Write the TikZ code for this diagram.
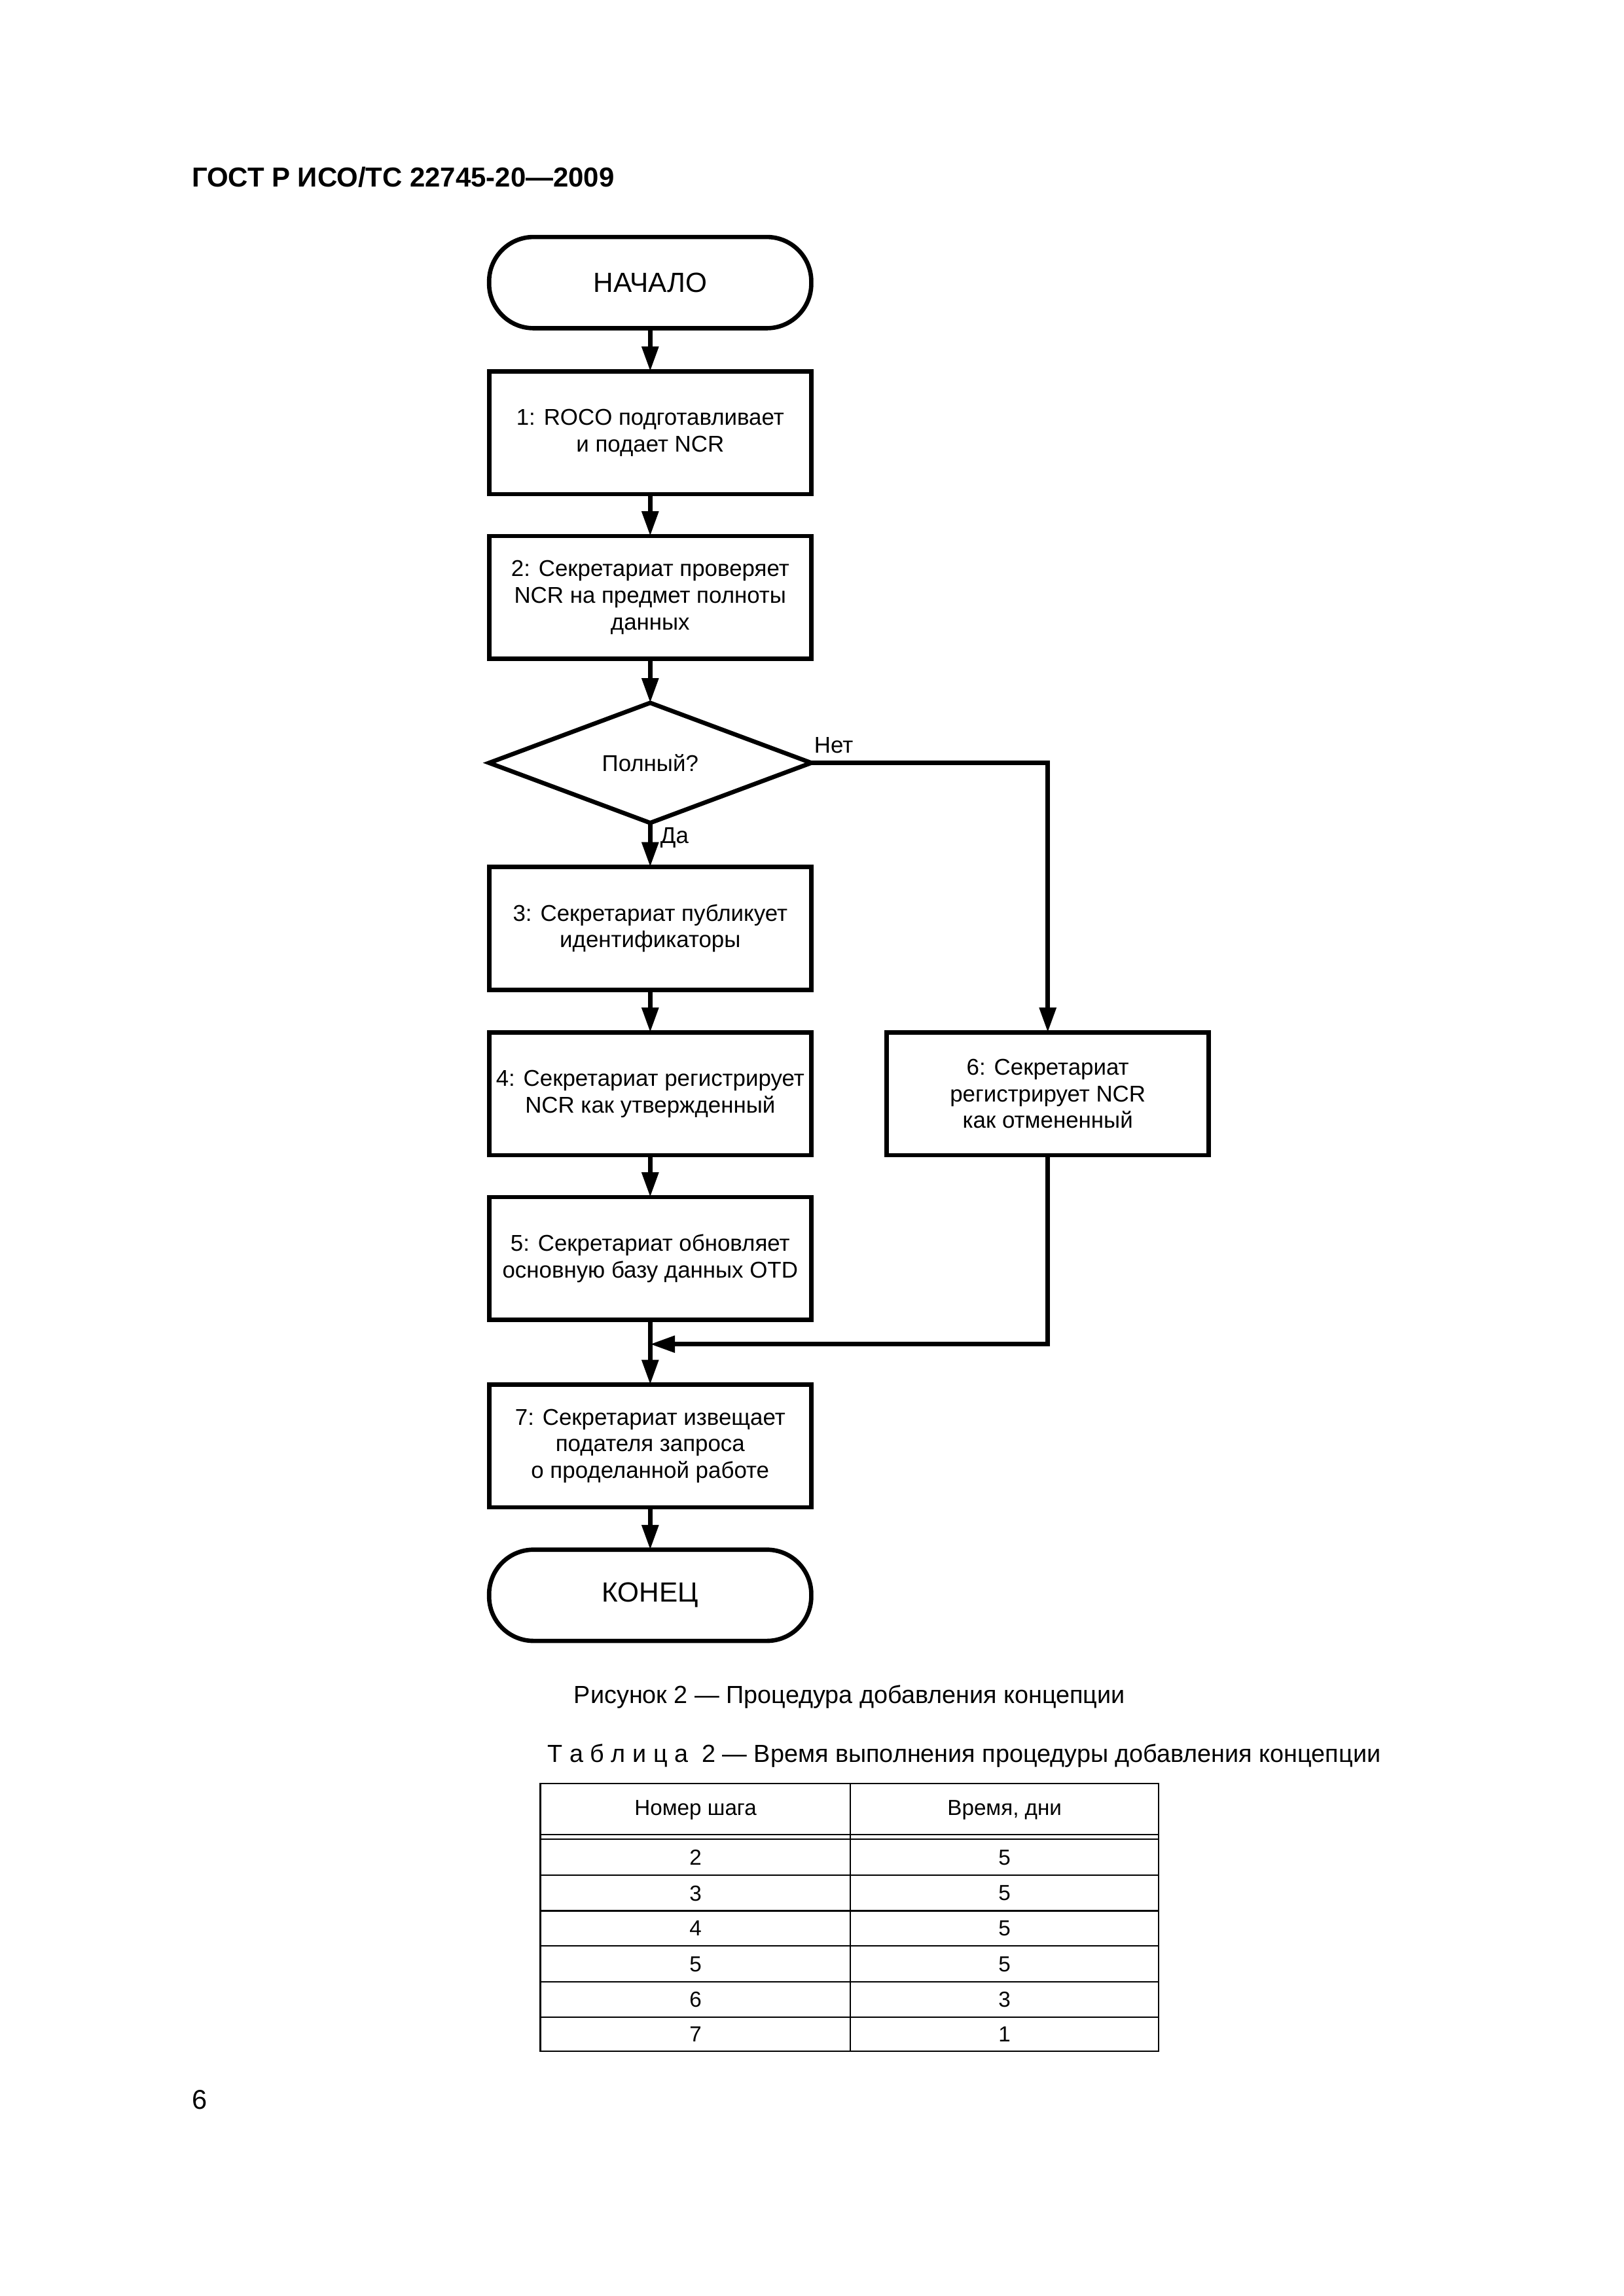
\documentclass[tikz,border=0pt]{standalone}
\usepackage{fontspec}
\setmainfont{Liberation Sans}
\usetikzlibrary{arrows.meta,shapes.geometric}
\begin{document}
\begin{tikzpicture}[x=0.1894mm,y=-0.1894mm,
  every node/.style={inner sep=0pt, outer sep=0pt},
  box/.style={draw, line width=1.6pt, rectangle, minimum width=41.67mm, minimum height=15.9mm, align=center, font=\fontsize{8.4}{9.8}\selectfont},
  term/.style={draw, line width=1.6pt, rectangle, rounded corners=5.75mm, minimum width=41.67mm, minimum height=11.8mm, font=\fontsize{10.2}{12}\selectfont},
  decision/.style={draw, line width=1.6pt, diamond, minimum width=41.67mm, minimum height=15.53mm, font=\fontsize{8.4}{9.8}\selectfont},
  lbl/.style={font=\fontsize{8.4}{9.8}\selectfont},
  arr/.style={line width=1.6pt, -{Triangle[length=3.2mm,width=2.1mm]}},
  cell/.style={font=\fontsize{8}{9.5}\selectfont},
  tline/.style={line width=0.5pt}
]
\path[use as bounding box] (0mm,0mm) rectangle (210mm,-297mm);

% header
\node[anchor=west, font=\fontsize{10.1}{12}\selectfont\bfseries] (hdr) at (131,121) {ГОСТ Р ИСО/ТС 22745-20—2009};

% flowchart nodes
\node[term] (start) at (444,193) {НАЧАЛО};
\node[box] (b1) at (444,295.5) {1: ROCO подготавливает\\и подает NCR};
\node[box] (b2) at (444,408) {2: Секретариат проверяет\\NCR на предмет полноты\\данных};
\node[decision] (dec) at (444,521) {Полный?};
\node[box] (b3) at (444,634) {3: Секретариат публикует\\идентификаторы};
\node[box] (b4) at (444,747) {4: Секретариат регистрирует\\NCR как утвержденный};
\node[box] (b5) at (444,859.5) {5: Секретариат обновляет\\основную базу данных OTD};
\node[box] (b6) at (715.5,747) {6: Секретариат\\регистрирует NCR\\как отмененный};
\node[box] (b7) at (444,987.5) {7: Секретариат извещает\\подателя запроса\\о проделанной работе};
\node[term] (end) at (444,1089.5) {КОНЕЦ};
\coordinate (m) at (444,918);

\node[lbl, anchor=west] (no) at (556,509) {Нет};
\node[lbl, anchor=west] (yes) at (451,572) {Да};

% connectors
\draw[arr] (start) -- (b1);
\draw[arr] (b1) -- (b2);
\draw[arr] (b2) -- (dec);
\draw[arr] (dec) -- (b3);
\draw[arr] (b3) -- (b4);
\draw[arr] (b4) -- (b5);
\draw[arr] (dec.east) -| (b6.north);
\draw[arr] (b6.south) |- (m);
\draw[arr] (b5.south) -- (b7.north);
\draw[arr] (b7) -- (end);

% caption
\node[anchor=west, font=\fontsize{9.1}{11}\selectfont] (cap) at (392,1159) {Рисунок 2 — Процедура добавления концепции};
\node[anchor=west, font=\fontsize{9.1}{11}\selectfont] (ttl) at (374,1199) {Т а б л и ц а \ 2 — Время выполнения процедуры добавления концепции};

% table
\draw[tline] (369,1218) rectangle (791,1401);
\draw[tline] (580.5,1218) -- (580.5,1401);
\draw[tline] (369,1253) -- (791,1253);
\draw[tline] (369,1256) -- (791,1256);
\foreach \yy in {1280.5,1305,1329,1353.5,1377.5} {\draw[tline] (369,\yy) -- (791,\yy);}
\node[cell] (h1) at (475,1236) {Номер шага};
\node[cell] (h2) at (686,1236) {Время, дни};
\node[cell] (r1a) at (475,1268.5) {2}; \node[cell] (r1b) at (686,1268.5) {5};
\node[cell] (r2a) at (475,1293) {3}; \node[cell] (r2b) at (686,1293) {5};
\node[cell] (r3a) at (475,1317) {4}; \node[cell] (r3b) at (686,1317) {5};
\node[cell] (r4a) at (475,1341.5) {5}; \node[cell] (r4b) at (686,1341.5) {5};
\node[cell] (r5a) at (475,1365.5) {6}; \node[cell] (r5b) at (686,1365.5) {3};
\node[cell] (r6a) at (475,1389.5) {7}; \node[cell] (r6b) at (686,1389.5) {1};

% page number
\node[anchor=west, font=\fontsize{10}{12}\selectfont] (pg) at (131,1434) {6};
\end{tikzpicture}
\end{document}
